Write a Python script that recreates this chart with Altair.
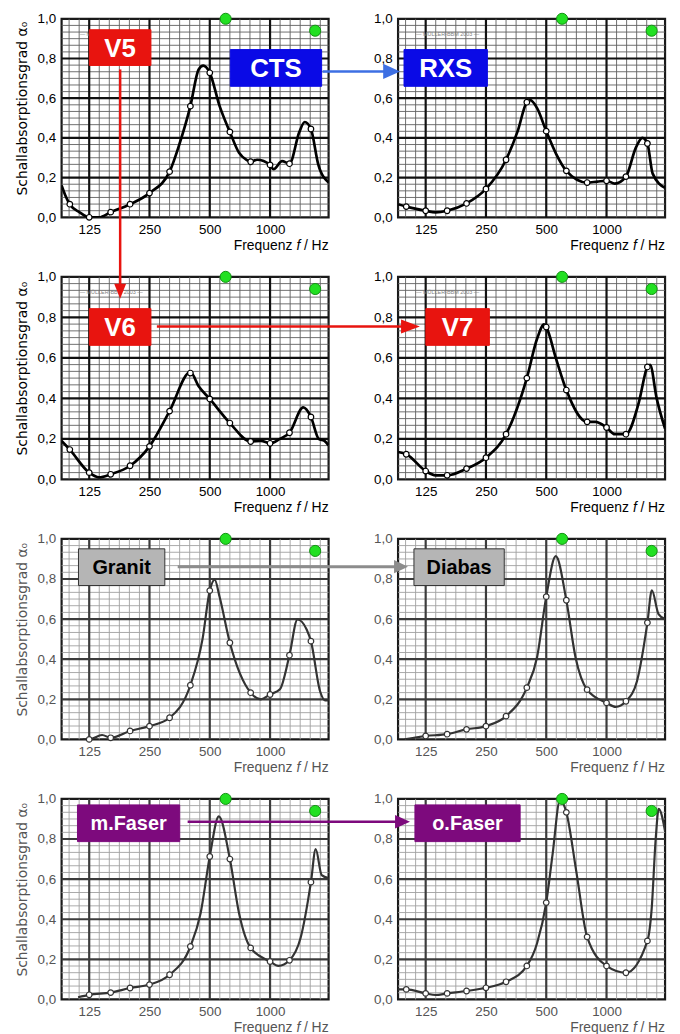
import altair as alt
import pandas as pd

# ---------------- data ----------------
BANDS = [100, 125, 160, 200, 250, 315, 400, 500, 630, 800, 1000, 1250, 1600]
X_TICKS = [125, 250, 500, 1000]
Y_TICKS = [0.0, 0.2, 0.4, 0.6, 0.8, 1.0]
F_DOMAIN = [91, 1960]

# grid paper: 6 subdivisions per octave and per 0.2
X_MAJOR = [125, 250, 500, 1000]
X_MINOR = [round(125 * 2 ** (k / 6), 2) for k in range(-2, 24) if k % 6 != 0]
Y_MAJOR = [0.2, 0.4, 0.6, 0.8]
Y_MINOR = [round(k / 30, 4) for k in range(1, 30) if k % 6 != 0]

GREEN_F = [600, 1680]
GREEN_A = [1.0, 0.94]

LABELS = ["V5", "CTS", "RXS", "V6", "V7", "Granit", "Diabas", "m.Faser", "o.Faser"]

# circles at the third-octave bands (None = no circle)
V5_CIRC = [0.066, 0.0, 0.026, 0.066, 0.122, 0.23, 0.56, 0.728, 0.43, 0.28, 0.264, 0.27, 0.445]
V5_F = [91, 95, 100, 112, 125, 140, 160, 200, 250, 315, 352, 400, 440, 464, 500, 560, 630, 700, 760, 800, 862, 1000, 1041, 1148, 1250, 1400, 1490, 1600, 1740, 1960]
V5_A = [0.16, 0.11, 0.066, 0.025, 0.0, 0.0, 0.026, 0.066, 0.122, 0.23, 0.366, 0.56, 0.745, 0.764, 0.728, 0.56, 0.43, 0.325, 0.29, 0.28, 0.29, 0.264, 0.242, 0.283, 0.27, 0.43, 0.48, 0.445, 0.267, 0.176]

RXS_CIRC = [0.054, 0.033, 0.033, 0.07, 0.143, 0.29, 0.58, 0.434, 0.234, 0.175, 0.184, 0.205, 0.372]
RXS_F = [91, 100, 125, 140, 160, 200, 250, 315, 360, 400, 416, 450, 500, 560, 630, 800, 900, 1000, 1100, 1250, 1400, 1510, 1600, 1700, 1960]
RXS_A = [0.066, 0.054, 0.033, 0.025, 0.033, 0.07, 0.143, 0.29, 0.434, 0.58, 0.59, 0.55, 0.434, 0.32, 0.234, 0.175, 0.18, 0.184, 0.17, 0.205, 0.35, 0.40, 0.372, 0.22, 0.148]

V6_CIRC = [0.147, 0.033, 0.025, 0.067, 0.163, 0.337, 0.525, 0.397, 0.278, 0.187, 0.178, 0.23, 0.308]
V6_F = [91, 100, 125, 140, 160, 200, 250, 315, 400, 440, 500, 630, 800, 900, 1000, 1120, 1250, 1465, 1600, 1750, 1870, 1960]
V6_A = [0.19, 0.147, 0.033, 0.01, 0.025, 0.067, 0.163, 0.337, 0.53, 0.46, 0.397, 0.278, 0.187, 0.19, 0.178, 0.2, 0.23, 0.355, 0.308, 0.2, 0.19, 0.167]

V7_CIRC = [0.124, 0.041, 0.02, 0.053, 0.107, 0.223, 0.50, 0.752, 0.441, 0.284, 0.256, 0.223, 0.555]
V7_F = [91, 100, 125, 140, 160, 200, 250, 315, 400, 450, 488, 500, 560, 630, 800, 880, 1000, 1100, 1250, 1450, 1600, 1650, 1780, 1960]
V7_A = [0.135, 0.124, 0.041, 0.02, 0.02, 0.053, 0.107, 0.223, 0.50, 0.694, 0.765, 0.752, 0.595, 0.441, 0.284, 0.284, 0.256, 0.223, 0.223, 0.38, 0.555, 0.565, 0.40, 0.25]

GRANIT_CIRC = [None, 0.0, 0.008, 0.042, 0.066, 0.108, 0.27, 0.742, 0.482, 0.233, 0.224, 0.42, 0.49]
GRANIT_F = [116, 125, 145, 160, 200, 250, 315, 400, 460, 500, 529, 560, 630, 800, 900, 1000, 1120, 1250, 1371, 1523, 1600, 1777, 1880, 1960]
GRANIT_A = [0.0, 0.0, 0.022, 0.008, 0.042, 0.066, 0.108, 0.27, 0.5, 0.742, 0.797, 0.71, 0.482, 0.233, 0.2, 0.224, 0.25, 0.42, 0.598, 0.548, 0.49, 0.24, 0.195, 0.195]

DIABAS_CIRC = [None, 0.017, 0.026, 0.05, 0.066, 0.116, 0.258, 0.712, 0.694, 0.248, 0.182, 0.19, 0.582]
DIABAS_F = [98, 125, 160, 200, 250, 315, 400, 450, 500, 558, 630, 700, 800, 1000, 1110, 1250, 1419, 1600, 1684, 1818, 1960]
DIABAS_A = [0.0, 0.017, 0.026, 0.05, 0.066, 0.116, 0.258, 0.41, 0.712, 0.914, 0.694, 0.41, 0.248, 0.182, 0.162, 0.19, 0.29, 0.582, 0.744, 0.625, 0.6]

MFASER_CIRC = [None, 0.023, 0.034, 0.057, 0.074, 0.123, 0.264, 0.713, 0.70, 0.257, 0.189, 0.195, 0.585]
MFASER_F = [110, 125, 160, 200, 250, 315, 400, 450, 500, 555, 630, 700, 800, 1000, 1100, 1250, 1420, 1600, 1690, 1810, 1960]
MFASER_A = [0.011, 0.023, 0.034, 0.057, 0.074, 0.123, 0.264, 0.43, 0.713, 0.913, 0.70, 0.43, 0.257, 0.189, 0.167, 0.195, 0.306, 0.585, 0.75, 0.62, 0.605]

OFASER_CIRC = [0.05, 0.03, 0.03, 0.042, 0.058, 0.088, 0.167, 0.483, 0.933, 0.312, 0.167, 0.133, 0.292]
OFASER_F = [91, 100, 125, 140, 160, 200, 250, 315, 400, 450, 500, 538, 586, 630, 706, 800, 1000, 1250, 1600, 1680, 1760, 1822, 1960]
OFASER_A = [0.05, 0.05, 0.03, 0.022, 0.03, 0.042, 0.058, 0.088, 0.167, 0.28, 0.483, 0.725, 0.995, 0.933, 0.64, 0.312, 0.167, 0.133, 0.292, 0.45, 0.8, 0.95, 0.84]

# ---------------- styling ----------------
W = 269
RED = "#e8140f"
BLUE = "#0a0ae6"
BLUE_ARROW = "#3d6fe3"
PURPLE = "#7d0a7d"
GREY_BOX = "#b5b5b5"
GREY_ARROW = "#8c8c8c"
FONT = "Liberation Sans"

# box: (label index, x1, y1, x2, y2, fill, text colour, font size, border)
# arrow: (orientation, start, tip, cross position, colour, width, head length, head half-width ratio)
PANELS = [
    dict(circ=V5_CIRC, cf=V5_F, ca=V5_A, h=200, left=True, dark=True, wm=True,
         boxes=[(0, 28, 11, 90, 47, RED, "white", 26, RED), (1, 170, 31, 262, 68, BLUE, "white", 26, BLUE)],
         arrows=[]),
    dict(circ=RXS_CIRC, cf=RXS_F, ca=RXS_A, h=200, left=False, dark=True, wm=True,
         boxes=[(2, 6, 31, 90, 68, BLUE, "white", 26, BLUE)],
         arrows=[("h", -76, 2, 53, BLUE_ARROW, 2.5, 17, 0.9)]),
    dict(circ=V6_CIRC, cf=V6_F, ca=V6_A, h=204, left=True, dark=True, wm=True,
         boxes=[(3, 28, 32, 90, 69, RED, "white", 26, RED)],
         arrows=[("v", -209, 22, 59, RED, 2.5, 15, 0.8)]),
    dict(circ=V7_CIRC, cf=V7_F, ca=V7_A, h=204, left=False, dark=True, wm=True,
         boxes=[(4, 28, 32, 92, 69, RED, "white", 26, RED)],
         arrows=[("h", -243, 22, 50, RED, 2.5, 19, 0.75)]),
    dict(circ=GRANIT_CIRC, cf=GRANIT_F, ca=GRANIT_A, h=202, left=True, dark=False, wm=False,
         boxes=[(5, 17, 10, 104, 47, GREY_BOX, "black", 20, "#333333")],
         arrows=[]),
    dict(circ=DIABAS_CIRC, cf=DIABAS_F, ca=DIABAS_A, h=202, left=False, dark=False, wm=False,
         boxes=[(6, 16, 10, 107, 47, GREY_BOX, "black", 20, "#333333")],
         arrows=[("h", -222, 10, 28, GREY_ARROW, 3, 14, 0.95)]),
    dict(circ=MFASER_CIRC, cf=MFASER_F, ca=MFASER_A, h=202, left=True, dark=False, wm=False,
         boxes=[(7, 16, 6, 119, 43, PURPLE, "white", 20, PURPLE)],
         arrows=[]),
    dict(circ=OFASER_CIRC, cf=OFASER_F, ca=OFASER_A, h=202, left=False, dark=False, wm=False,
         boxes=[(8, 17, 6, 123, 43, PURPLE, "white", 20, PURPLE)],
         arrows=[("h", -212, 12, 23, PURPLE, 2.5, 15, 0.9)]),
]

ONE = pd.DataFrame({"k": [0]})


def panel(p):
    H = p["h"]
    dark = p["dark"]
    xs = alt.Scale(type="log", domain=F_DOMAIN, nice=False)
    ys = alt.Scale(domain=[0, 1], nice=False, zero=False)
    thin_col = "#606060" if dark else "#a0a0a0"
    thick_col = "#111111" if dark else "#3c3c3c"
    txt_col = "#000000" if dark else "#555555"
    curve_col = "#000000" if dark else "#333333"
    curve_w = 2.7 if dark else 2.2

    x_axis = alt.Axis(values=X_TICKS, format="d", labelFontSize=13.5, labelColor=txt_col, labelFont=FONT,
                      ticks=False, domain=False, grid=False, labelPadding=5, title="")
    y_kw = dict(values=Y_TICKS, labelExpr="replace(format(datum.value, '.1f'), '.', ',')",
                labelFontSize=13.5, labelColor=txt_col, labelFont=FONT, ticks=False, domain=False,
                grid=False, labelPadding=6)
    if p["left"]:
        y_kw.update(title="Schallabsorptionsgrad α₀", titleFont="DejaVu Sans", titleFontSize=14,
                    titleFontWeight="normal", titleColor=txt_col, titlePadding=8, titleY=H / 2 - 10)
    else:
        y_kw.update(title="")
    y_axis = alt.Axis(**y_kw)

    def X(field="f"):
        return alt.X(f"{field}:Q", scale=xs, axis=x_axis)

    def Y(field="a"):
        return alt.Y(f"{field}:Q", scale=ys, axis=y_axis)

    layers = []
    layers.append(alt.Chart(pd.DataFrame({"f": X_MINOR})).mark_rule(color=thin_col, strokeWidth=0.9).encode(x=X()))
    layers.append(alt.Chart(pd.DataFrame({"a": Y_MINOR})).mark_rule(color=thin_col, strokeWidth=0.9).encode(y=Y()))
    layers.append(alt.Chart(pd.DataFrame({"f": X_MAJOR})).mark_rule(color=thick_col, strokeWidth=2.2).encode(x=X()))
    layers.append(alt.Chart(pd.DataFrame({"a": Y_MAJOR})).mark_rule(color=thick_col, strokeWidth=2.2).encode(y=Y()))

    layers.append(alt.Chart(pd.DataFrame({"f": p["cf"], "a": p["ca"]}))
                  .mark_line(color=curve_col, strokeWidth=curve_w, interpolate="monotone", clip=True)
                  .encode(x=X(), y=Y()))

    cdf = pd.DataFrame({"f": BANDS, "a": p["circ"]}).dropna()
    layers.append(alt.Chart(cdf).mark_circle(color="white", stroke=curve_col, strokeWidth=1.2, size=32, opacity=1)
                  .encode(x=X(), y=Y()))

    layers.append(alt.Chart(pd.DataFrame({"f": GREEN_F, "a": GREEN_A}))
                  .mark_circle(color="#22e022", stroke="#129012", strokeWidth=1, size=125, opacity=1)
                  .encode(x=X(), y=Y()))

    if p["wm"]:
        layers.append(alt.Chart(ONE).mark_text(text="— MÜLLER-BBM 2003 —", fontSize=5.5, color="#808080", font=FONT)
                      .encode(x=alt.value(50), y=alt.value(15)))

    # frequency label
    layers.append(alt.Chart(ONE).mark_text(text="/ Hz", fontSize=14, color=txt_col, font=FONT, align="right", baseline="middle")
                  .encode(x=alt.value(W), y=alt.value(H + 29)))
    layers.append(alt.Chart(ONE).mark_text(text="f", fontSize=14, fontStyle="italic", color=txt_col, font=FONT,
                                           align="right", baseline="middle")
                  .encode(x=alt.value(W - 28.5), y=alt.value(H + 29)))
    layers.append(alt.Chart(ONE).mark_text(text="Frequenz", fontSize=14, color=txt_col, font=FONT, align="right", baseline="middle")
                  .encode(x=alt.value(W - 36.5), y=alt.value(H + 29)))

    for (li, x1, y1, x2, y2, fill, tcol, fs, border) in p["boxes"]:
        layers.append(alt.Chart(ONE).mark_rect(color=fill, stroke=border, strokeWidth=1, opacity=1)
                      .encode(x=alt.value(x1), x2=alt.value(x2), y=alt.value(y1), y2=alt.value(y2)))
        layers.append(alt.Chart(pd.DataFrame({"label": [LABELS[li]]}))
                      .mark_text(fontSize=fs, fontWeight="bold", color=tcol, font=FONT, align="center", baseline="middle")
                      .encode(text="label:N", x=alt.value((x1 + x2) / 2), y=alt.value((y1 + y2) / 2 + 1)))

    for (ori, start, tip, cross, col, sw, L, r) in p["arrows"]:
        centre = tip - L / 2
        if ori == "h":
            layers.append(alt.Chart(ONE).mark_rule(color=col, strokeWidth=sw)
                          .encode(x=alt.value(start), x2=alt.value(centre), y=alt.value(cross)))
            path = f"M-1,-{r}L1,0L-1,{r}Z"
            layers.append(alt.Chart(ONE).mark_point(shape=path, filled=True, color=col, size=L * L, opacity=1, strokeWidth=0)
                          .encode(x=alt.value(centre), y=alt.value(cross)))
        else:
            layers.append(alt.Chart(ONE).mark_rule(color=col, strokeWidth=sw)
                          .encode(y=alt.value(start), y2=alt.value(centre), x=alt.value(cross)))
            path = f"M-{r},-1L{r},-1L0,1Z"
            layers.append(alt.Chart(ONE).mark_point(shape=path, filled=True, color=col, size=L * L, opacity=1, strokeWidth=0)
                          .encode(y=alt.value(centre), x=alt.value(cross)))

    return alt.layer(*layers).properties(width=W, height=H)


charts = [panel(p) for p in PANELS]

chart = (
    alt.concat(*charts, columns=2, spacing={"row": 60, "column": 70}, bounds="flush", align="each")
    .configure(font=FONT)
    .configure_view(stroke="#1a1a1a", strokeWidth=2.2)
    .properties(padding={"left": 6, "top": -2, "right": 4, "bottom": 0}, background="white")
)

chart.save("out.html", embed_options={"renderer": "svg", "actions": False})
